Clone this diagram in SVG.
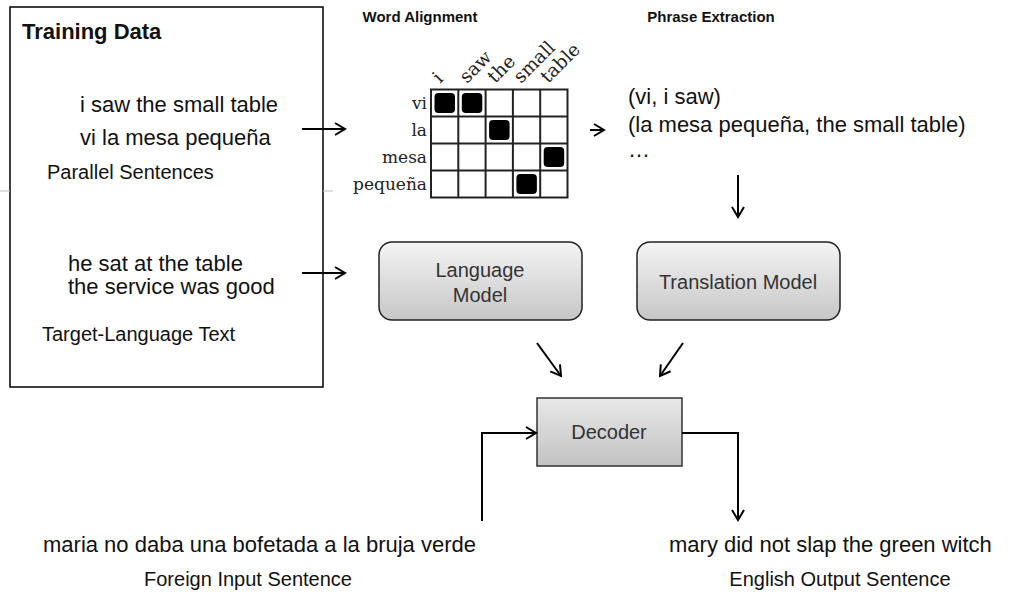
<svg xmlns="http://www.w3.org/2000/svg" width="1023" height="594" viewBox="0 0 1023 594">
<style>
.t{font-family:"Liberation Sans",Arial,sans-serif;fill:#111}
.b{font-weight:bold}
.s{font-family:"DejaVu Serif","Liberation Serif",serif;font-size:17px;fill:#222}
.c{font-size:18.5px}
.n{font-family:"Liberation Sans",Arial,sans-serif;font-size:20px;fill:#333;text-anchor:middle}
.ln{stroke:#000;stroke-width:2;fill:none}
.grid{stroke:#222;stroke-width:2;fill:#fff}
</style>
<defs>
<marker id="ah" markerUnits="userSpaceOnUse" markerWidth="14" markerHeight="14" viewBox="0 0 14 14" refX="12" refY="7" orient="auto">
<path d="M2,1 L12,7 L2,13" fill="none" stroke="#000" stroke-width="2"/>
</marker>
<linearGradient id="g1" x1="0" y1="0" x2="0" y2="1">
<stop offset="0" stop-color="#f4f4f4"/><stop offset="1" stop-color="#c6c6c6"/>
</linearGradient>
<linearGradient id="g2" x1="0" y1="0" x2="0" y2="1">
<stop offset="0" stop-color="#e8e8e8"/><stop offset="1" stop-color="#c2c2c2"/>
</linearGradient>
</defs>
<rect width="1023" height="594" fill="#fff"/>

<g id="training-data">
<rect x="10" y="7" width="313" height="380" fill="none" stroke="#000" stroke-width="1.5"/>
<line x1="0" y1="191" x2="10" y2="191" stroke="#bbb" stroke-width="1"/>
<line x1="323" y1="191" x2="333" y2="191" stroke="#bbb" stroke-width="1"/>
<text class="t b" x="22" y="39" font-size="22">Training Data</text>
<text class="t" x="80" y="112" font-size="22">i saw the small table</text>
<text class="t" x="80" y="145" font-size="22">vi la mesa pequeña</text>
<text class="t" x="47" y="179" font-size="20">Parallel Sentences</text>
<text class="t" x="68" y="271" font-size="22">he sat at the table</text>
<text class="t" x="68" y="294" font-size="22">the service was good</text>
<text class="t" x="42" y="341" font-size="20">Target-Language Text</text>
</g>

<g id="word-alignment">
<text class="t b" x="420" y="22" font-size="15" text-anchor="middle">Word Alignment</text>
<rect class="grid" x="431" y="89.5" width="136.5" height="108"/>
<path d="M458.3,89.5V197.5M485.6,89.5V197.5M512.9,89.5V197.5M540.2,89.5V197.5M431,116.5H567.5M431,143.5H567.5M431,170.5H567.5" stroke="#222" stroke-width="2" fill="none"/>
<rect x="434.5" y="93" width="20.5" height="20" rx="4" fill="#000"/>
<rect x="461.8" y="93" width="20.5" height="20" rx="4" fill="#000"/>
<rect x="489.1" y="120" width="20.5" height="20" rx="4" fill="#000"/>
<rect x="543.7" y="147" width="20.5" height="20" rx="4" fill="#000"/>
<rect x="516.4" y="174" width="20.5" height="20" rx="4" fill="#000"/>
<text class="s" x="427" y="109" text-anchor="end">vi</text>
<text class="s" x="427" y="136" text-anchor="end">la</text>
<text class="s" x="427" y="163" text-anchor="end">mesa</text>
<text class="s" x="427" y="190" text-anchor="end">pequeña</text>
<text class="s c" transform="translate(440,84) rotate(-45)">i</text>
<text class="s c" transform="translate(467,84) rotate(-45)">saw</text>
<text class="s c" transform="translate(495,84) rotate(-45)">the</text>
<text class="s c" transform="translate(521,84) rotate(-45)">small</text>
<text class="s c" transform="translate(548,84) rotate(-45)">table</text>
</g>

<g id="phrase-extraction">
<text class="t b" x="711" y="22" font-size="15" text-anchor="middle">Phrase Extraction</text>
<text class="t" x="628" y="104" font-size="22">(vi, i saw)</text>
<text class="t" x="628" y="132" font-size="22">(la mesa pequeña, the small table)</text>
<text class="t" x="628" y="157" font-size="22">…</text>
</g>

<g id="language-model">
<rect x="379" y="242" width="203" height="78" rx="13" fill="url(#g1)" stroke="#222" stroke-width="1.5"/>
<text class="n" x="480" y="277">Language</text>
<text class="n" x="480" y="302">Model</text>
</g>

<g id="translation-model">
<rect x="637" y="242" width="203" height="78" rx="13" fill="url(#g1)" stroke="#222" stroke-width="1.5"/>
<text class="n" x="738" y="289">Translation Model</text>
</g>

<g id="decoder">
<rect x="537" y="398" width="145" height="68" fill="url(#g2)" stroke="#333" stroke-width="1.5"/>
<text class="n" x="609" y="439">Decoder</text>
</g>

<g id="input">
<text class="t" x="43" y="552" font-size="22">maria no daba una bofetada a la bruja verde</text>
<text class="t" x="248" y="586" font-size="20" text-anchor="middle">Foreign Input Sentence</text>
</g>

<g id="output">
<text class="t" x="669" y="552" font-size="22">mary did not slap the green witch</text>
<text class="t" x="840" y="586" font-size="20" text-anchor="middle">English Output Sentence</text>
</g>

<g id="connectors">
<line class="ln" x1="302" y1="129" x2="345" y2="129" marker-end="url(#ah)"/>
<line class="ln" x1="302" y1="273" x2="345" y2="273" marker-end="url(#ah)"/>
<line class="ln" x1="590" y1="130" x2="604" y2="130" marker-end="url(#ah)"/>
<line class="ln" x1="738" y1="175" x2="738" y2="217" marker-end="url(#ah)"/>
<line class="ln" x1="537" y1="343" x2="561" y2="376" marker-end="url(#ah)"/>
<line class="ln" x1="683" y1="343" x2="660" y2="376" marker-end="url(#ah)"/>
<polyline class="ln" points="482,521 482,433 536,433" marker-end="url(#ah)"/>
<polyline class="ln" points="682,433 738,433 738,520" marker-end="url(#ah)"/>
</g>
</svg>
